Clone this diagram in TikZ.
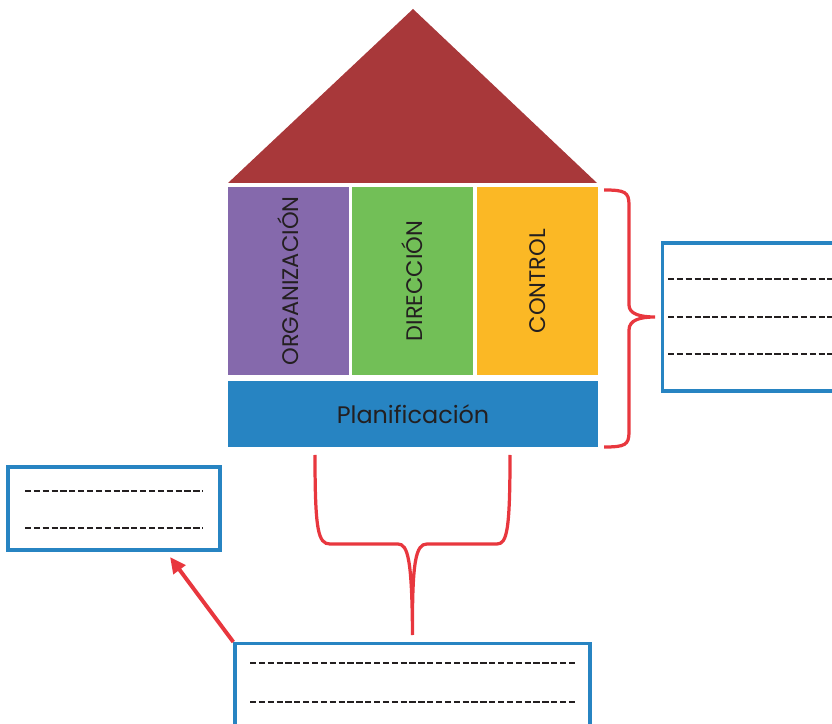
\documentclass[tikz,border=0pt]{standalone}
\usepackage{fontspec}
\setmainfont{Poppins}
\usepackage{tikz}
\usetikzlibrary{positioning, arrows.meta}
\definecolor{roofred}{HTML}{A8383A}
\definecolor{orgpurple}{HTML}{8569AC}
\definecolor{dirgreen}{HTML}{72BF57}
\definecolor{ctrlorange}{HTML}{FBB825}
\definecolor{planblue}{HTML}{2784C2}
\definecolor{bracered}{HTML}{E8373E}
\definecolor{inkgrey}{HTML}{231F20}
\tikzstyle{column}=[rectangle,inner sep=0pt,outer sep=0pt,minimum width=3.025cm,minimum height=4.7cm,text=inkgrey,font=\fontsize{16}{18}\selectfont]
\tikzstyle{floor}=[rectangle,inner sep=0pt,outer sep=0pt,fill=planblue,minimum width=9.25cm,minimum height=1.65cm,text=inkgrey,font=\fontsize{17}{19}\selectfont]
\tikzstyle{answer}=[rectangle,draw=planblue,line width=2.3pt,inner sep=0pt]
\tikzstyle{fill line}=[draw=inkgrey,line width=1.8pt,dash pattern=on 4.4pt off 1.9pt]
\tikzstyle{brace}=[draw=bracered,line width=2.3pt]
\tikzstyle{arrow}=[draw=bracered,line width=2.8pt,-{Triangle[length=0.4cm,width=0.36cm]}]

\begin{document}
\begin{tikzpicture}[x=0.025cm, y=0.025cm, node distance=0.075cm]
		\useasboundingbox (0,0) rectangle (832,723);
		
		\fill[roofred] (228,540) -- (413,714) -- (597,540) -- cycle;
		
		\node (org) [column, fill=orgpurple] at (288.5,442) {\rotatebox{90}{ORGANIZACIÓN}};
		\node (dir) [column, fill=dirgreen, right=of org] {\rotatebox{90}{DIRECCIÓN}};
		\node (ctrl) [column, fill=ctrlorange, right=0.1cm of dir] {\rotatebox{90}{CONTROL}};
		\node (plan) [floor, below=0.15cm of org.south west, anchor=north west] {Planificación};
		
		\node (rbox) [answer, minimum width=4.9cm, minimum height=3.7cm, anchor=west] at (661,406) {};
		\node (lbox) [answer, minimum width=5.3cm, minimum height=2.075cm] at (114,214.5) {};
		\node (bbox) [answer, minimum width=8.875cm, minimum height=3cm, anchor=north] at (412.5,81) {};
		\coordinate (atip) at (170,166);
		
		\draw[fill line] (668,444) -- ++(180,0);
		\draw[fill line] (668,406) -- ++(180,0);
		\draw[fill line] (668,369) -- ++(180,0);
		\draw[fill line] (25,232) -- (203,232);
		\draw[fill line] (25,195) -- (203,195);
		\draw[fill line] (250,60) -- (576,60);
		\draw[fill line] (250,21) -- (576,21);
		
		% braces
		\draw[brace] (604,533) .. controls (625,533) and (629,531) .. (629,518) -- (629,418)
			.. controls (629,409) and (640,406) .. ([xshift=-0.15cm]rbox.west)
			.. controls (640,406) and (629,403) .. (629,393) -- (629,291)
			.. controls (629,278) and (625,276) .. (604,276);
		\draw[brace] (315,268) .. controls (315,193) and (318,179) .. (330,179) -- (398,179)
			.. controls (408,179) and (412,163) .. ([yshift=0.175cm]bbox.north)
			.. controls (412,163) and (416,179) .. (427,179) -- (497,179)
			.. controls (507,179) and (510,193) .. (510,268);
		
		\draw[arrow] (bbox.north west) -- (atip);
		
\end{tikzpicture}
\end{document}
